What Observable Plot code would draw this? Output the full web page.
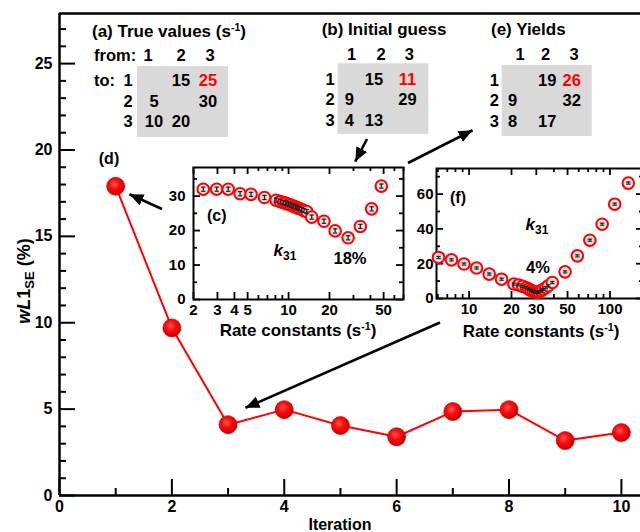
<!DOCTYPE html>
<html>
<head>
<meta charset="utf-8">
<script src="https://cdn.jsdelivr.net/npm/d3@7"></script>
<script src="https://cdn.jsdelivr.net/npm/@observablehq/plot@0.6"></script>
<style>
  html, body { margin: 0; padding: 0; background: #fff; }
  #wrap { position: relative; width: 640px; height: 532px; overflow: hidden; background: #fff; }
  #wrap svg { position: absolute; }
</style>
</head>
<body>
<div id="wrap"></div>
<script>
// ---------------- DATA ----------------
// main chart (d)
const iterations = [1, 2, 3, 4, 5, 6, 7, 8, 9, 10];
const wL1SE = [17.9, 9.7, 4.1, 4.97, 4.05, 3.4, 4.86, 4.97, 3.18, 3.64];
const mainXTicks = [0, 2, 4, 6, 8, 10];
const mainXMinor = [1, 3, 5, 7, 9];
const mainYTicks = [0, 5, 10, 15, 20, 25];
const mainYMinor = [1, 2, 3, 4, 6, 7, 8, 9, 11, 12, 13, 14, 16, 17, 18, 19, 21, 22, 23, 24, 26, 27];

// inset (c): initial guess scan of k31
const kC = [2.36, 2.96, 3.6, 4.4, 5.3, 6.65, 8.1, 8.7, 9.2, 9.6, 10.0, 10.4, 10.8, 11.2, 11.6, 12.0, 12.5, 13.0, 13.6, 14.8, 18.2, 22, 27.4, 33.7, 40.8, 48.1];
const wC = [32.0, 32.0, 32.0, 30.7, 30.5, 29.6, 28.8, 28.4, 28.1, 27.9, 27.6, 27.4, 27.1, 26.9, 26.6, 26.4, 26.1, 25.8, 25.5, 23.9, 22.7, 19.9, 17.9, 21.2, 26.3, 32.9];
const eC = [0.6, 0.6, 0.6, 0.6, 0.6, 0.6, 0.6, 0.6, 0.6, 0.6, 0.6, 0.6, 0.6, 0.6, 0.6, 0.6, 0.6, 0.6, 0.6, 0.6, 0.6, 0.6, 0.6, 0.6, 0.6, 0.6];
const cXLabels = [2, 3, 4, 5, 10, 20, 50];
const cXMinor = [6, 7, 8, 9, 30, 40, 60, 70];
const cYLabels = [0, 10, 20, 30];
const cYMinor = [5, 15, 25, 35];

// inset (f): final scan of k31
const kF = [6.07, 7.5, 9.2, 11.3, 13.9, 17, 20.8, 22.5, 24, 25.5, 26.5, 27.5, 28.5, 29.5, 30.5, 31.5, 32.5, 33.5, 35, 36.5, 39, 48, 58.7, 72, 88, 108, 135];
const wF = [23.6, 22.2, 19.8, 17.5, 14.0, 11.1, 8.3, 7.8, 7.0, 6.2, 5.4, 4.7, 4.1, 3.7, 3.5, 3.8, 4.4, 5.2, 6.2, 7.3, 9.2, 15.3, 24.5, 33.5, 42.7, 54.2, 66.3];
const eF = [0.6, 0.6, 0.6, 0.6, 0.6, 0.6, 0.6, 0.6, 0.6, 0.6, 0.6, 0.6, 0.6, 0.6, 0.6, 0.6, 0.6, 0.6, 0.6, 0.6, 0.6, 0.6, 0.6, 0.6, 0.6, 0.6, 0.6];
const fXLabels = [10, 20, 30, 50, 100];
const fXMinor = [6, 7, 8, 9, 40, 60, 70, 80, 90];
const fYLabels = [0, 20, 40, 60];
const fYMinor = [10, 30, 50, 70];

// tables
const stateLabels = ["1", "2", "3"];
const trueValues   = [[null, 15, 25], [5, null, 30], [10, 20, null]];
const initialGuess = [[null, 15, 11], [9, null, 29], [4, 13, null]];
const yieldValues  = [[null, 19, 26], [9, null, 32], [8, 17, null]];
const highlightCell = [0, 2]; // row, column shown in red (k31)

// ---------------- DRAWING ----------------
const FONT = '"Liberation Sans", Arial, Helvetica, sans-serif';
const wrap = document.getElementById("wrap");
const baseStyle = {fontFamily: FONT, fontWeight: "bold", color: "#000", background: "transparent", overflow: "visible"};

// ---- main chart ----
const M = {w: 640, h: 532, l: 59, r: 0, t: 13, b: 37};
const mInnerW = M.w - M.l - M.r, mInnerH = M.h - M.t - M.b;
const X_MAX = 10.34, Y_MAX = 27.9;
const mainData = iterations.map((it, i) => ({it, v: wL1SE[i]}));

const mainPlot = Plot.plot({
  width: M.w, height: M.h,
  marginLeft: M.l, marginRight: M.r, marginTop: M.t, marginBottom: M.b,
  style: {...baseStyle, fontSize: "16px"},
  x: {domain: [0, X_MAX]},
  y: {domain: [0, Y_MAX]},
  marks: [
    Plot.axisX({ticks: mainXTicks, tickSize: 0, tickPadding: 5, tickFormat: d => String(d), label: null, fontSize: 16}),
    Plot.axisY({ticks: mainYTicks, tickSize: 0, tickPadding: 7, tickFormat: d => String(d), label: null, fontSize: 16}),
    Plot.tickX(mainXTicks, {x: d => d, insetTop: mInnerH - 16, strokeWidth: 2}),
    Plot.tickX(mainXMinor, {x: d => d, insetTop: mInnerH - 7, strokeWidth: 2}),
    Plot.tickY(mainYTicks, {y: d => d, insetRight: mInnerW - 16, strokeWidth: 2}),
    Plot.tickY(mainYMinor, {y: d => d, insetRight: mInnerW - 7, strokeWidth: 2}),
    Plot.ruleX([0], {strokeWidth: 2.5}),
    Plot.ruleY([0, Y_MAX], {strokeWidth: 2.5}),
    Plot.line(mainData, {x: "it", y: "v", stroke: "#ff0000", strokeWidth: 2}),
    Plot.dot(mainData, {x: "it", y: "v", r: 9, fill: "url(#shine)", stroke: "#c00000", strokeWidth: 0.7})
  ]
});
mainPlot.style.left = "0px"; mainPlot.style.top = "0px";
wrap.appendChild(mainPlot);
const grad = d3.select(mainPlot).append("defs").append("radialGradient")
  .attr("id", "shine").attr("cx", "42%").attr("cy", "38%").attr("r", "62%");
grad.append("stop").attr("offset", "0%").attr("stop-color", "#ff5a5a");
grad.append("stop").attr("offset", "45%").attr("stop-color", "#ff0a0a");
grad.append("stop").attr("offset", "100%").attr("stop-color", "#c80000");

// ---- inset helper ----
function inset(cfg) {
  const innerW = cfg.w - cfg.l - cfg.r, innerH = cfg.h - cfg.t - cfg.b;
  const data = cfg.k.map((k, i) => ({k, w: cfg.wv[i], e: cfg.e[i]}));
  const capF = Math.pow(10, 2.2 / cfg.decPx);
  const p = Plot.plot({
    width: cfg.w, height: cfg.h,
    marginLeft: cfg.l, marginRight: cfg.r, marginTop: cfg.t, marginBottom: cfg.b,
    style: {...baseStyle, fontSize: "15px"},
    x: {type: "log", domain: cfg.xDomain},
    y: {domain: cfg.yDomain},
    marks: [
      Plot.axisX({ticks: cfg.xLabels, tickSize: 0, tickPadding: 5, tickFormat: d => String(d), label: null, fontSize: 15}),
      Plot.axisY({ticks: cfg.yLabels, tickSize: 0, tickPadding: cfg.yPad, tickFormat: d => String(d), label: null, fontSize: 15}),
      // inward ticks, bottom & top
      Plot.tickX(cfg.xLabels, {x: d => d, insetTop: innerH - 7, strokeWidth: 1.8}),
      Plot.tickX(cfg.xMinor, {x: d => d, insetTop: innerH - 4, strokeWidth: 1.8}),
      Plot.tickX(cfg.xLabels, {x: d => d, insetBottom: innerH - 7, strokeWidth: 1.8}),
      Plot.tickX(cfg.xMinor, {x: d => d, insetBottom: innerH - 4, strokeWidth: 1.8}),
      // inward ticks, left & right
      Plot.tickY(cfg.yLabels, {y: d => d, insetRight: innerW - 7, strokeWidth: 1.8}),
      Plot.tickY(cfg.yMinor, {y: d => d, insetRight: innerW - 4, strokeWidth: 1.8}),
      Plot.tickY(cfg.yLabels, {y: d => d, insetLeft: innerW - 7, strokeWidth: 1.8}),
      Plot.tickY(cfg.yMinor, {y: d => d, insetLeft: innerW - 4, strokeWidth: 1.8}),
      Plot.frame({stroke: "#000", strokeWidth: 2}),
      Plot.dot(data, {x: "k", y: "w", r: 5.8, stroke: "#ff0000", strokeWidth: 2, fill: "#e2e2e2"}),
      Plot.ruleX(data, {x: "k", y1: d => d.w - d.e, y2: d => d.w + d.e, stroke: "#222", strokeWidth: 1.3}),
      Plot.link(data, {x1: d => d.k / capF, x2: d => d.k * capF, y1: d => d.w - d.e, y2: d => d.w - d.e, stroke: "#222", strokeWidth: 1.2}),
      Plot.link(data, {x1: d => d.k / capF, x2: d => d.k * capF, y1: d => d.w + d.e, y2: d => d.w + d.e, stroke: "#222", strokeWidth: 1.2})
    ]
  });
  p.style.left = cfg.left + "px"; p.style.top = cfg.top + "px";
  wrap.appendChild(p);
}

inset({left: 160, top: 150, w: 250, h: 190, l: 33, r: 250 - (403 - 160), t: 17, b: 150 + 190 - 299,
  xDomain: [2, 70], yDomain: [0, 38.3], decPx: 136, yPad: 8,
  k: kC, wv: wC, e: eC, xLabels: cXLabels, xMinor: cXMinor, yLabels: cYLabels, yMinor: cYMinor});

inset({left: 400, top: 150, w: 245, h: 190, l: 36, r: 2, t: 18, b: 150 + 190 - 298,
  xDomain: [5.87, 173], yDomain: [0, 74.7], decPx: 141, yPad: 3,
  k: kF, wv: wF, e: eF, xLabels: fXLabels, xMinor: fXMinor, yLabels: fYLabels, yMinor: fYMinor});

// ---- overlay: tables, labels, arrows ----
const ov = d3.select(wrap).append("svg")
  .attr("width", 640).attr("height", 532)
  .style("left", "0px").style("top", "0px")
  .style("font-family", FONT).style("font-weight", "bold").style("pointer-events", "none");

const defs = ov.append("defs");
defs.append("marker").attr("id", "ah").attr("markerUnits", "userSpaceOnUse")
  .attr("markerWidth", 15).attr("markerHeight", 12).attr("refX", 14).attr("refY", 6)
  .attr("orient", "auto")
  .append("path").attr("d", "M0,0 L14,6 L0,12 Z").attr("fill", "#000");

function arrow(x1, y1, x2, y2) {
  const dx = x2 - x1, dy = y2 - y1, L = Math.hypot(dx, dy);
  ov.append("line").attr("x1", x1).attr("y1", y1)
    .attr("x2", x2 - dx / L * 0.5).attr("y2", y2 - dy / L * 0.5)
    .attr("stroke", "#000").attr("stroke-width", 2.6).attr("marker-end", "url(#ah)");
}
arrow(162, 209, 129, 194);   // (c) -> (d) point
arrow(367, 139, 355, 162);   // (b) -> (c)
arrow(408, 163, 473, 130);   // (c) -> (e)
arrow(440, 322.5, 245, 408); // (f) -> iteration 3

function txt(x, y, s, size, anchor = "middle", fill = "#000") {
  return ov.append("text").attr("x", x).attr("y", y).attr("font-size", size)
    .attr("text-anchor", anchor).attr("fill", fill).text(s);
}
function supText(x, y, base, sup, tail, size, anchor) {
  const t = ov.append("text").attr("x", x).attr("y", y).attr("font-size", size).attr("text-anchor", anchor);
  t.append("tspan").text(base);
  t.append("tspan").attr("dy", -6).attr("font-size", size * 0.62).text(sup);
  t.append("tspan").attr("dy", 6).text(tail);
  return t;
}
function kLabel(x, y) {
  const t = ov.append("text").attr("x", x).attr("y", y).attr("font-size", 17).attr("text-anchor", "middle");
  t.append("tspan").attr("font-style", "italic").text("k");
  t.append("tspan").attr("dy", 4).attr("font-size", 12).text("31");
}

const NUM = 16.5;
function table(values, L) {
  ov.append("rect").attr("x", L.box[0]).attr("y", L.box[1])
    .attr("width", L.box[2] - L.box[0]).attr("height", L.box[3] - L.box[1]).attr("fill", "#d9d9d9");
  stateLabels.forEach((s, j) => txt(L.headX[j], L.headY, s, NUM));
  stateLabels.forEach((s, i) => txt(L.rowX, L.rowY[i], s, NUM));
  values.forEach((row, i) => row.forEach((v, j) => {
    if (v == null) return;
    const red = i === highlightCell[0] && j === highlightCell[1];
    txt(L.valX[j], L.rowY[i], String(v), NUM, "middle", red ? "#ff0000" : "#000");
  }));
}

supText(92, 37, "(a) True values (s", "-1", ")", 17, "start");
txt(94, 61, "from:", NUM, "start");
txt(94, 86, "to:", NUM, "start");
table(trueValues, {box: [137, 66, 228, 137], headX: [148, 181, 210], headY: 61, rowX: 128, rowY: [86, 106.5, 127], valX: [154, 181, 208]});

txt(321.7, 35, "(b) Initial guess", 17, "start");
table(initialGuess, {box: [337.7, 63.3, 428.3, 134], headX: [351.7, 381, 409.3], headY: 60, rowX: 330, rowY: [85, 105, 125.5], valX: [349.3, 374, 407.5]});

txt(491, 35, "(e) Yields", 17, "start");
table(yieldValues, {box: [501.7, 65, 591.7, 136], headX: [520, 545.7, 574], headY: 60, rowX: 494.3, rowY: [86, 106, 127], valX: [512.7, 547.3, 571.7]});

// panel labels
txt(109, 164, "(d)", 16);
txt(216.7, 221, "(c)", 16);
kLabel(285, 256);
txt(350, 264, "18%", 16.5);
txt(458, 203, "(f)", 16);
kLabel(537, 230);
txt(538, 273, "4%", 16.5);

// axis titles
supText(298, 336, "Rate constants (s", "-1", ")", 17, "middle");
supText(541, 337, "Rate constants (s", "-1", ")", 17, "middle");
txt(340, 530, "Iteration", 16);

const yl = ov.append("text").attr("transform", "translate(29.5,281) rotate(-90)")
  .attr("font-size", 18).attr("text-anchor", "middle");
yl.append("tspan").attr("font-style", "italic").text("wL");
yl.append("tspan").text("1");
yl.append("tspan").attr("dy", 4).attr("font-size", 13).text("SE");
yl.append("tspan").attr("dy", -4).text(" (%)");
</script>
</body>
</html>
